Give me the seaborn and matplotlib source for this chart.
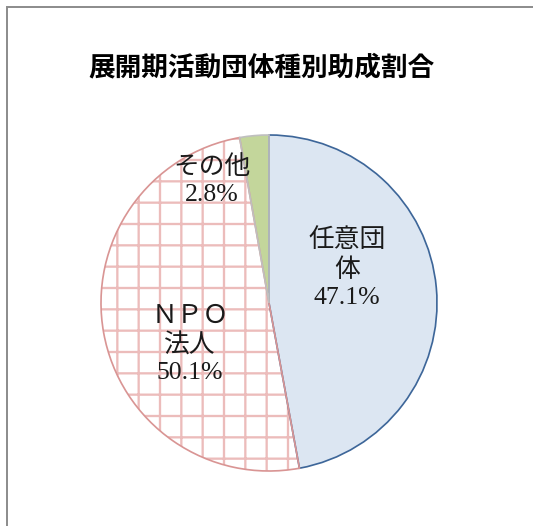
import matplotlib
matplotlib.use("Agg")
import matplotlib.pyplot as plt
import seaborn as sns
from matplotlib.patches import Rectangle

# data
categories = ["任意団体", "ＮＰＯ法人", "その他"]
shares = [47.1, 50.1, 2.8]
label_texts = ["任意団\n体\n47.1%", "ＮＰＯ\n法人\n50.1%", "その他\n2.8%"]
title = "展開期活動団体種別助成割合"

fills = ["#dce6f2", "#ffffff", "#c3d69b"]
edges = ["#3d6699", "#d99594", "#bfbfbf"]

sns.set_style("white")
plt.rcParams["font.family"] = ["Noto Sans CJK JP", "DejaVu Sans"]
plt.rcParams["hatch.linewidth"] = 1.3

W, H, DPI = 533, 526, 128
fig = plt.figure(figsize=(W / DPI, H / DPI), dpi=DPI)

# outer chart frame (cropped on right/bottom)
fig.patches.append(Rectangle((7 / W, -0.2), 1.3, 1.2 - 7 / H,
                             transform=fig.transFigure, fill=False,
                             edgecolor="#8c8c8c", linewidth=1.1))

# pie axes placed in pixel terms
cx, cy, r = 269, 303, 168
lim = 1.1
ax = fig.add_axes([(cx - lim * r) / W, (H - cy - lim * r) / H,
                   2 * lim * r / W, 2 * lim * r / H])

wedges, _ = ax.pie(shares, colors=fills, startangle=90, counterclock=False,
                   wedgeprops=dict(linewidth=0))
wedges[1].set_hatch("+")
wedges[1].set_edgecolor("#ecbcbb")
wedges[1].set_linewidth(0)

# outline pass
outl, _ = ax.pie(shares, startangle=90, counterclock=False,
                 wedgeprops=dict(fill=False, linewidth=0.95))
for w, ec in zip(outl, edges):
    w.set_edgecolor(ec)
ax.set_xlim(-lim, lim)
ax.set_ylim(-lim, lim)
ax.set_aspect("equal")

label_pos = [(0.464, 0.205), (-0.47, -0.25), (-0.34, 0.73)]
for txt, (x, y) in zip(label_texts, label_pos):
    ax.text(x, y, txt, ha="center", va="center", fontsize=14.5,
            linespacing=1.3, color="#1a1a1a",
            family=["Liberation Serif", "Noto Sans CJK JP"])

fig.text(261 / W, 1 - 68 / H, title, ha="center", va="center",
         fontsize=15, fontweight="bold", color="black",
         family=["Noto Sans CJK JP", "DejaVu Sans"])

fig.savefig("out.png", dpi=DPI)
